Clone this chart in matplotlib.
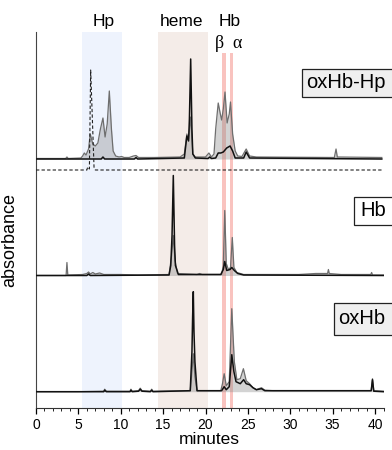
import numpy as np
import matplotlib
matplotlib.use("Agg")
import matplotlib.pyplot as plt
from matplotlib.patches import Rectangle
from matplotlib.ticker import MultipleLocator
import matplotlib.transforms as mtransforms

plt.rcParams['font.family'] = ['Liberation Sans', 'DejaVu Sans']

# ---- traces (minutes, height above own baseline, arbitrary units) ----
# oxHb-Hp panel
hphb_t_gray = [0, 3.5, 3.65, 3.8, 5.3, 5.5, 5.7, 5.9, 6.2, 6.4, 6.7, 7.0, 7.3, 7.6, 7.9, 8.15, 8.4,
               8.65, 8.9, 9.1, 9.4, 9.8, 10.1, 10.4, 11.0, 11.5, 11.8, 12.1, 14.0, 17.0, 17.5, 17.8,
               18.0, 18.25, 18.5, 18.8, 20.0, 20.4, 20.7, 21.0, 21.2, 21.5, 21.75, 21.9, 22.1, 22.3,
               22.55, 22.8, 22.95, 23.2, 23.5, 23.8, 24.3, 24.8, 25.2, 26.0, 35.2, 35.4, 35.55, 40.8]
hphb_gray = [0.5, 0.5, 2, 0.5, 1, 3, 6, 4, 10, 25, 15, 13, 16, 30, 41, 22, 35,
             68, 30, 8, 3, 2, 2.5, 1.5, 1.5, 3, 3.5, 1.5, 1.5, 2, 5, 25,
             20, 42, 5, 2, 2, 6, 2, 5, 30, 56, 45, 39, 50, 67,
             36, 45, 57, 25, 8, 3, 2.5, 10, 3, 2, 1.5, 10, 2, 1.5]
hphb_t_black = [0, 7.7, 7.9, 8.1, 11.6, 11.8, 12.0, 17.5, 17.8, 18.0, 18.1, 18.25, 18.4, 18.5, 18.8,
                20.3, 20.5, 20.7, 21.2, 21.5, 21.8, 22.1, 22.5, 22.9, 23.2, 23.5, 24.5, 24.8, 25.2, 40.8]
hphb_black = [0, 0, 2, 0, 0, 1.5, 0, 1, 23, 18, 40, 100, 30, 5, 1,
              0.5, 2, 0.5, 1, 6, 6, 7, 11, 13, 8, 1, 1, 7, 1, 0]
hphb_t_dash = [0, 6.0, 6.1, 6.3, 6.45, 6.85, 7.0, 41]
hphb_dash = [0, 0, 3, 1, 100, 2, 0, 0]

# Hb panel
hb_t_gray = [0, 3.55, 3.65, 3.75, 5.5, 6.0, 6.2, 6.4, 6.7, 7.0, 7.5, 8.0, 10.0, 12.0, 15.7, 16.0,
             16.2, 16.4, 16.7, 19.0, 19.3, 19.6, 21.9, 22.1, 22.27, 22.45, 22.7, 22.95, 23.16, 23.35,
             23.7, 24.5, 31.0, 33.0, 34.4, 34.5, 34.6, 36.0, 39.5, 39.6, 39.7, 41]
hb_gray = [0, 0, 13, 0.5, 1, 2, 3.5, 1.5, 3, 1.5, 2.5, 1, 1, 0.5, 1, 20,
           40, 15, 2, 1, 2, 1, 1, 10, 65, 12, 6, 8, 38, 8,
           3, 1, 1, 2, 2, 6, 2, 1, 1, 3, 0.5, 0.5]
hb_t_black = [0, 6.0, 6.2, 6.4, 15.7, 15.9, 16.05, 16.2, 16.35, 16.45, 16.8, 21.8, 22.1, 22.27,
              22.5, 22.9, 23.1, 23.4, 23.8, 24.5, 41]
hb_black = [0, 0, 1.5, 0, 0.5, 10, 40, 100, 30, 10, 1, 1, 6, 14,
            5, 6, 8, 5, 2, 0.5, 0]

# oxHb panel
ox_t_gray = [0, 5.0, 8.0, 8.1, 8.3, 11.1, 11.2, 11.35, 12.1, 12.3, 12.5, 13.5, 13.65, 13.8, 18.2,
             18.4, 18.56, 18.75, 19.0, 21.8, 22.0, 22.2, 22.45, 22.8, 23.1, 23.4, 23.7, 24.1, 24.47,
             24.8, 25.2, 25.6, 26.0, 26.6, 27.0, 28.0, 39.55, 39.7, 39.85, 41]
ox_gray = [0, 0, 0.5, 2.5, 0.5, 0.5, 2.5, 0.5, 1, 3.5, 1, 0.5, 2.5, 0.5, 1,
           20, 38, 15, 1, 1, 8, 18, 6, 10, 83, 30, 12, 13, 23,
           11, 8, 4, 2, 4, 1.5, 1, 1, 13, 1, 0.5]
ox_t_black = [0, 8.0, 8.1, 8.3, 11.1, 11.2, 11.35, 12.1, 12.3, 12.5, 13.5, 13.65, 13.8, 18.2, 18.4,
              18.48, 18.56, 18.64, 18.75, 19.0, 21.9, 22.2, 22.45, 22.8, 23.1, 23.35, 23.6, 24.1,
              24.5, 24.8, 25.2, 25.6, 26.0, 26.6, 27.0, 39.55, 39.7, 39.85, 41]
ox_black = [0, 0, 1.5, 0, 0, 1.5, 0, 0.5, 2.5, 0.5, 0, 1.5, 0, 1, 40,
            75, 100, 60, 30, 1, 1, 5, 2, 5, 37, 20, 10, 8,
            12, 8, 7, 4, 2, 3, 1, 1, 12, 0.5, 0]

panel_labels = ["oxHb-Hp", "Hb", "oxHb"]
region_labels = ["Hp", "heme", "Hb"]
region_pos = [8.0, 17.2, 22.8]
chain_labels = ["β", "α"]
chain_pos = [21.7, 23.7]
hp_band = (5.4, 10.2)
heme_band = (14.4, 20.3)
chain_bands = [(21.98, 22.45), (22.85, 23.28)]

# ---- figure ----
fig = plt.figure(figsize=(3.92, 4.5), dpi=100)
ax = fig.add_axes([36 / 392, 42 / 450, 347.5 / 392, 376 / 450])
ax.set_xlim(0, 41)
ax.set_ylim(0, 376)

ax.axvspan(*hp_band, color='#eef3fd', lw=0, zorder=0)
ax.axvspan(*heme_band, color='#f4ece8', lw=0, zorder=0)
for b in chain_bands:
    ax.axvspan(*b, ymax=0.944, color='#f9c3bf', lw=0, zorder=0.5)

base_top, base_dash, base_mid, base_bot = 249, 238, 132.5, 16.3


def draw(tg, g, tb, b, base):
    tg = np.array(tg); g = np.array(g)
    ax.fill_between(tg, base, base + g, color='#8c8c8c', alpha=0.38, lw=0, zorder=1)
    ax.plot(tg, base + g, color='#6e6e6e', lw=0.9, zorder=2)
    ax.plot(tb, base + np.array(b), color='#111111', lw=1.1, zorder=3)


draw(hphb_t_gray, hphb_gray, hphb_t_black, hphb_black, base_top)
draw(hb_t_gray, hb_gray, hb_t_black, hb_black, base_mid)
draw(ox_t_gray, ox_gray, ox_t_black, ox_black, base_bot)
ax.plot(hphb_t_dash, base_dash + np.array(hphb_dash), color='#222222', lw=0.8,
        ls=(0, (3, 2)), zorder=3)

for s in ['top', 'right']:
    ax.spines[s].set_visible(False)
ax.spines['left'].set_color('#444444')
ax.spines['bottom'].set_color('#333333')
ax.set_yticks([])
ax.set_xticks(range(0, 41, 5))
ax.xaxis.set_minor_locator(MultipleLocator(1))
ax.tick_params(axis='x', which='major', length=4, width=0.9, labelsize=10, pad=3)
ax.tick_params(axis='x', which='minor', length=2, width=0.6)
ax.set_xlabel("minutes", fontsize=12.5, labelpad=0.5)
ax.set_ylabel("absorbance", fontsize=13)
ax.yaxis.set_label_coords(-0.05, 0.447)

trans = mtransforms.blended_transform_factory(ax.transData, ax.transAxes)
for lab, x in zip(region_labels, region_pos):
    ax.text(x, 1.029, lab, transform=trans, ha='center', va='center', fontsize=12.5, clip_on=False)
for lab, x in zip(chain_labels, chain_pos):
    ax.text(x, 0.97, lab, transform=trans, ha='center', va='center', fontsize=13,
            family=['Liberation Serif', 'DejaVu Serif'], clip_on=False)

# labelled boxes at right (figure pixels from top)
boxes = [(301.7, 69, 97, 306, '#efefef'), (354, 196.7, 225, 360, 'white'), (334, 303, 335, 338, '#efefef')]
for lab, (x0, y0, y1, xt, fc) in zip(panel_labels, boxes):
    fig.add_artist(Rectangle((x0 / 392, 1 - y1 / 450), 0.3, (y1 - y0) / 450, transform=fig.transFigure,
                             facecolor=fc, edgecolor='#222222', lw=0.9, zorder=5))
    fig.text(xt / 392, 1 - (y0 + y1) / 2 / 450, lab, ha='left', va='center', fontsize=14.5, zorder=6)

fig.savefig("out.png", dpi=100)
